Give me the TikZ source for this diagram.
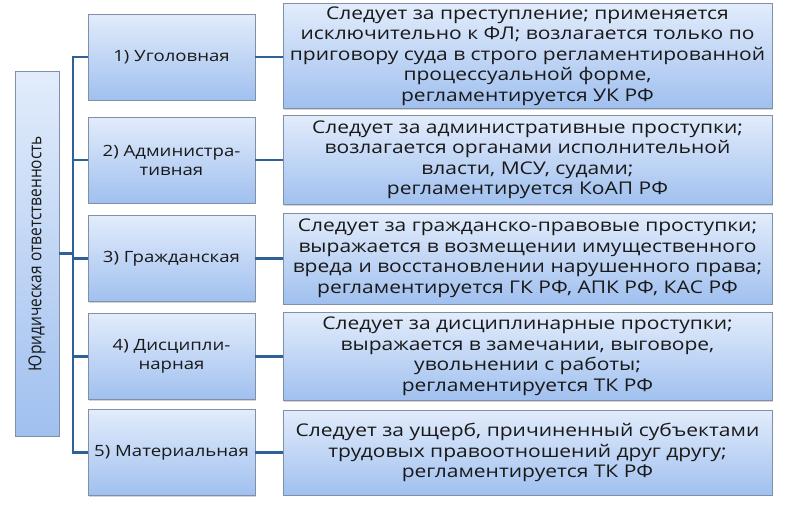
\documentclass[tikz,border=0pt]{standalone}
\usepackage{fontspec}
\setmainfont{Open Sans}[FakeStretch=1.2]
\newfontfamily\sidefont{Open Sans}
\usetikzlibrary{shadows}
\definecolor{boxtop}{HTML}{E2ECFB}
\definecolor{boxbot}{HTML}{A0C0EF}
\definecolor{boxline}{HTML}{8090A8}
\definecolor{linkblue}{HTML}{2F6098}
\tikzset{
  kindbox/.style={draw=boxline, line width=0.8pt, top color=boxtop, bottom color=boxbot,
    drop shadow={opacity=0.35, shadow xshift=1.2pt, shadow yshift=-1.2pt},
    minimum width=167pt, minimum height=86pt, inner sep=2pt, align=center,
    font=\fontsize{15.5}{19}\selectfont, text=black!90},
  descbox/.style={kindbox, minimum width=489pt, font=\fontsize{17.5}{20.5}\selectfont},
  link/.style={draw=linkblue, line width=2.4pt}
}
\begin{document}
\begin{tikzpicture}[x=1pt,y=-1pt]
  \useasboundingbox (0,0) rectangle (785,504);
  % left title box
  \node[kindbox, minimum width=44pt, minimum height=365pt] (jur) at (37,253.5)
    {\rotatebox{90}{\scalebox{1}[1.15]{\sidefont\fontsize{15.5}{18}\selectfont Юридическая ответственность}}};
  % kinds
  \node[kindbox] (k1) at (171.5,57) {1) Уголовная};
  \node[kindbox] (k2) at (171.5,160) {2) Администра-\\тивная};
  \node[kindbox] (k3) at (171.5,258.5) {3) Гражданская};
  \node[kindbox] (k4) at (171.5,356.5) {4) Дисципли-\\нарная};
  \node[kindbox] (k5) at (171.5,452.5) {5) Материальная};
  % descriptions
  \node[descbox, minimum height=105pt] (d1) at (527.5,56)
    {Следует за преступление; применяется\\исключительно к ФЛ; возлагается только по\\приговору суда в строго регламентированной\\процессуальной форме,\\регламентируется УК РФ};
  \node[descbox, minimum height=89pt] (d2) at (527.5,160)
    {Следует за административные проступки;\\возлагается органами исполнительной\\власти, МСУ, судами;\\регламентируется КоАП РФ};
  \node[descbox, minimum height=91pt] (d3) at (527.5,258.5)
    {Следует за гражданско-правовые проступки;\\выражается в возмещении имущественного\\вреда и восстановлении нарушенного права;\\регламентируется ГК РФ, АПК РФ, КАС РФ};
  \node[descbox, minimum height=88pt] (d4) at (527.5,356.5)
    {Следует за дисциплинарные проступки;\\выражается в замечании, выговоре,\\увольнении с работы;\\регламентируется ТК РФ};
  \node[descbox, minimum height=85pt] (d5) at (527.5,452.5)
    {Следует за ущерб, причиненный субъектами\\трудовых правоотношений друг другу;\\регламентируется ТК РФ};
  % connectors
  \coordinate (sp) at (73,0);
  \draw[link] (k1.west) -| (sp |- k5.west) -- (k5.west);
  \draw[link] (k2.west) -- (sp |- k2.west);
  \draw[link] (k3.west) -- (sp |- k3.west);
  \draw[link] (k4.west) -- (sp |- k4.west);
  \draw[link] (jur.east) -- (sp |- jur.east);
  \draw[link] (k1.east) -- (k1.east -| d1.west);
  \draw[link] (k2.east) -- (d2.west);
  \draw[link] (k3.east) -- (d3.west);
  \draw[link] (k4.east) -- (d4.west);
  \draw[link] (k5.east) -- (d5.west);
\end{tikzpicture}
\end{document}
